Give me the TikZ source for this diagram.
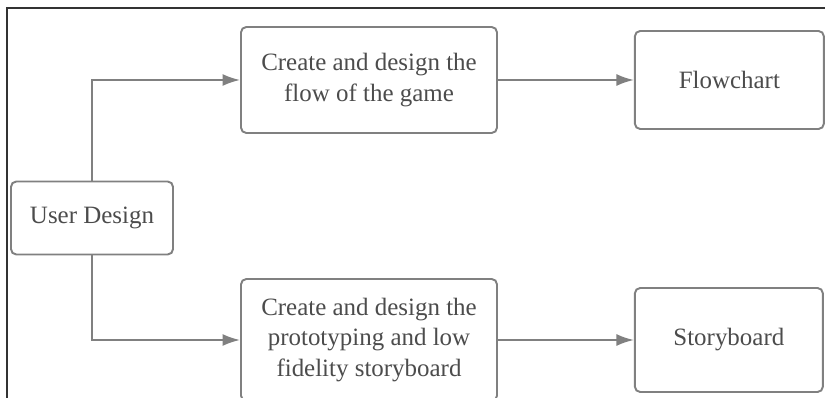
\documentclass[tikz,border=0pt]{standalone}
\usepackage{fontspec}
\setmainfont{Liberation Serif}
\usetikzlibrary{positioning,arrows.meta}

\tikzset{
  stepbox/.style={draw=black!50, line width=1.1pt, rounded corners=3pt, fill=white,
    text=black!70, align=center, inner sep=0pt,
    font=\fontsize{14.2}{17.6}\selectfont},
  link/.style={draw=black!50, line width=1.1pt, -{Latex[length=3.5mm,width=2.4mm]}}
}

\begin{document}
\begin{tikzpicture}[x=0.02cm,y=-0.02cm]
  \useasboundingbox (0,0) rectangle (825,398);
  \draw[black!80, line width=0.6pt] (7,410) -- (7,8) -- (830,8);

  \node (user) [stepbox, minimum width=3.24cm, minimum height=1.46cm] at (92,218) {User Design};
  \node (flow) [stepbox, minimum width=5.12cm, minimum height=2.12cm] at (369,80) {Create and design the\\flow of the game};
  \node (flowchart) [stepbox, minimum width=3.78cm, minimum height=1.96cm, right=2.72cm of flow] {Flowchart};
  \node (proto) [stepbox, minimum width=5.12cm, minimum height=2.44cm] at (369,340) {Create and design the\\prototyping and low\\fidelity storyboard};
  \node (story) [stepbox, minimum width=3.76cm, minimum height=2.08cm, right=2.72cm of proto] {Storyboard};

  \draw[link] (user.north) |- (flow.west);
  \draw[link] (user.south) |- (proto.west);
  \draw[link] (flow.east) -- (flowchart.west);
  \draw[link] (proto.east) -- (story.west);
\end{tikzpicture}
\end{document}
